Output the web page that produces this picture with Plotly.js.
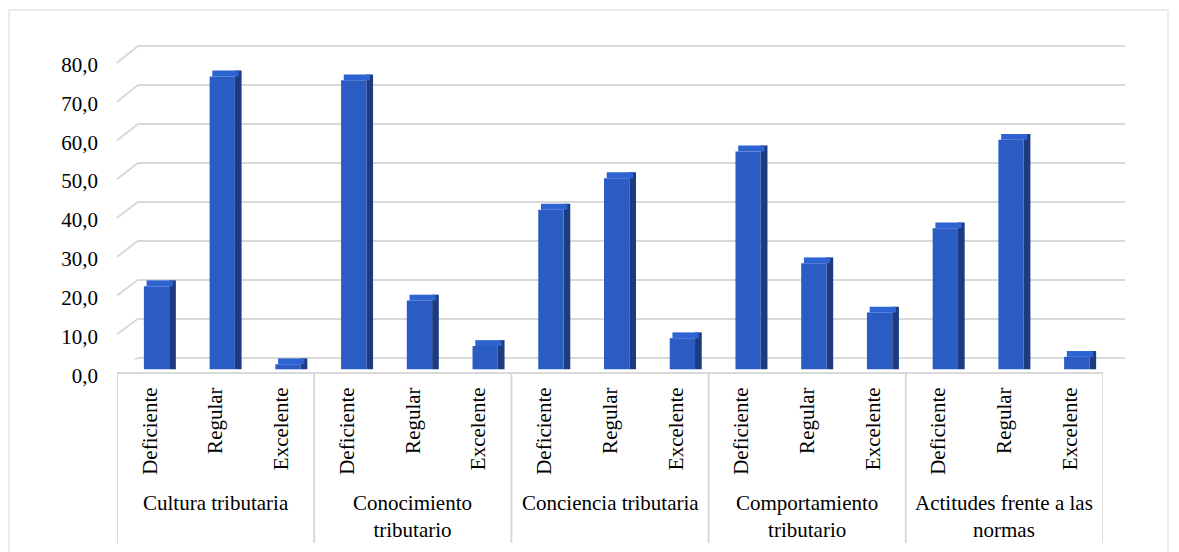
<!DOCTYPE html>
<html>
<head>
<meta charset="utf-8">
<script src="https://cdn.plot.ly/plotly-3.0.1.min.js"></script>
<style>
html,body{margin:0;padding:0;background:#fff;}
#chart{width:1179px;height:552px;}
</style>
</head>
<body>
<div id="chart"></div>
<script>
// ---- data ----
const groups = ['Cultura tributaria', 'Conocimiento<br>tributario', 'Conciencia tributaria', 'Comportamiento<br>tributario', 'Actitudes frente a las<br>normas'];
const levels = ['Deficiente', 'Regular', 'Excelente'];
const deficiente = [21.4, 74.4, 41.1, 56.1, 36.3];
const regular    = [75.4, 17.7, 49.2, 27.3, 59.1];
const excelente  = [1.3, 6.0, 8.0, 14.6, 3.2];
const yTicks = [0, 10, 20, 30, 40, 50, 60, 70, 80];

// ---- build ----
const W = 1179, H = 552;
const byLevel = [deficiente, regular, excelente];
const xs = [], ys = [], tickText = [];
groups.forEach((g, gi) => levels.forEach((l, li) => {
  xs.push(gi * 3 + li);
  ys.push(byLevel[li][gi]);
  tickText.push(l);
}));

const FONT = {family: '"Liberation Serif", "Times New Roman", serif', size: 21, color: '#000'};
const GRID = '#d9d9d9';
const CAP = 1.5;

const traces = [
  {type: 'scatter', x: [], y: [], xaxis: 'x', yaxis: 'y', showlegend: false, hoverinfo: 'skip'},
  {type: 'bar', x: xs, y: ys.map(v => v + CAP), base: 0, xaxis: 'x2', yaxis: 'y2',
   offset: 0.2936, width: 0.102, marker: {color: '#1d3c80', line: {width: 0}}, showlegend: false},
  {type: 'bar', x: xs, y: ys.map(() => CAP), base: ys, xaxis: 'x2', yaxis: 'y2',
   offset: -0.05, width: 0.40, marker: {color: '#2e64d2', line: {width: 0}}, showlegend: false},
  {type: 'bar', x: xs, y: ys, xaxis: 'x2', yaxis: 'y2',
   offset: -0.0913, width: 0.385, marker: {color: '#2a5cc4', line: {width: 0}}, showlegend: false}
];

const shapes = [];
// outer chart border
shapes.push({type: 'rect', xref: 'paper', yref: 'paper', x0: 9 / W, x1: 1168 / W, y0: -0.05, y1: 1 - 10 / H,
  line: {color: GRID, width: 1}, layer: 'below'});
// left diagonal stubs of the 3D walls
yTicks.forEach(v => shapes.push({type: 'line', xref: 'paper', yref: 'y', x0: 117 / W, x1: 138 / W,
  y0: v * 0.995 - 3.93, y1: v, line: {color: GRID, width: 2}, layer: 'below'}));
// category dividers
for (let i = 0; i <= groups.length; i++) {
  shapes.push({type: 'line', xref: 'x2', yref: 'paper', x0: i * 3 - 0.5, x1: i * 3 - 0.5,
    y0: 1 - 372 / H, y1: 1 - 543 / H, line: {color: GRID, width: 2}});
}

const annotations = groups.map((g, gi) => ({
  xref: 'x2', yref: 'paper', x: gi * 3 + 1, y: 1 - 489 / H, yanchor: 'top', xanchor: 'center',
  text: g, showarrow: false, font: FONT, align: 'center'
}));

const layout = {
  width: W, height: H,
  margin: {l: 0, r: 0, t: 0, b: 0},
  paper_bgcolor: '#fff', plot_bgcolor: 'rgba(0,0,0,0)',
  separators: ',.',
  barmode: 'overlay',
  hovermode: false,
  showlegend: false,
  font: FONT,
  // back wall gridlines
  xaxis: {domain: [138 / W, 1125 / W], range: [0, 1], visible: false, fixedrange: true},
  yaxis: {domain: [1 - 359.65 / H, 1 - 30.44 / H], range: [-0.5, 84], tick0: 0, dtick: 10,
    showgrid: true, gridcolor: GRID, gridwidth: 2, zeroline: false, showticklabels: false,
    showline: false, ticks: '', fixedrange: true},
  // bars and category axis
  xaxis2: {domain: [117 / W, 1103 / W], range: [-0.5, 14.5], anchor: 'y2',
    tickmode: 'array', tickvals: xs, ticktext: tickText, tickangle: -90,
    showgrid: false, zeroline: false, showline: true, linecolor: GRID, linewidth: 2,
    ticks: '', ticklabelstandoff: 5, tickfont: FONT, fixedrange: true},
  yaxis2: {domain: [1 - 372 / H, 1 - 42.25 / H], range: [-0.7, 84.2], anchor: 'x2',
    tickmode: 'array', tickvals: yTicks, tickformat: '.1f',
    showgrid: false, zeroline: false, showline: false, ticks: '',
    ticklabelstandoff: 18, ticklabelshift: 6, tickfont: FONT, fixedrange: true},
  shapes: shapes,
  annotations: annotations
};

Plotly.newPlot('chart', traces, layout, {displayModeBar: false, staticPlot: true});
</script>
</body>
</html>
